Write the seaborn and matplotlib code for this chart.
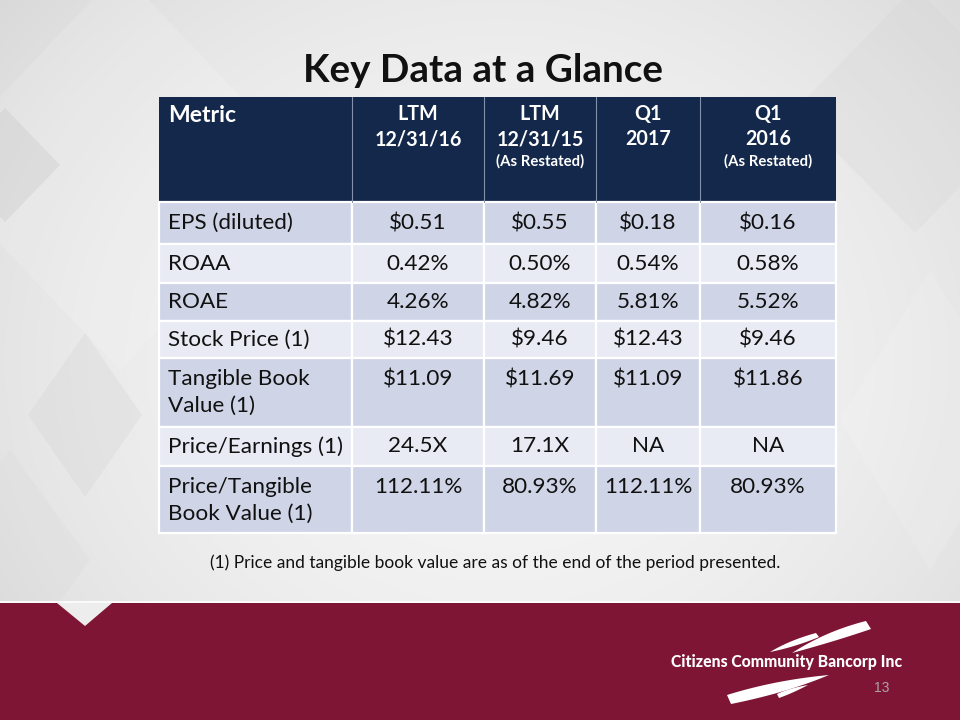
import numpy as np
import matplotlib
matplotlib.use("Agg")
import matplotlib.pyplot as plt
from matplotlib.patches import Rectangle, Polygon
import seaborn as sns

sns.set_theme(style="white")
plt.rcParams['font.family'] = ['Lato', 'DejaVu Sans']

# ---------------- data ----------------
title = "Key Data at a Glance"
col_top = ["Metric", "LTM", "LTM", "Q1", "Q1"]
col_mid = ["", "12/31/16", "12/31/15", "2017", "2016"]
col_note = ["", "", "(As Restated)", "", "(As Restated)"]
metrics = ["EPS (diluted)", "ROAA", "ROAE", "Stock Price (1)",
           "Tangible Book\nValue (1)", "Price/Earnings (1)",
           "Price/Tangible\nBook Value (1)"]
ltm_2016 = ["$0.51", "0.42%", "4.26%", "$12.43", "$11.09", "24.5X", "112.11%"]
ltm_2015 = ["$0.55", "0.50%", "4.82%", "$9.46", "$11.69", "17.1X", "80.93%"]
q1_2017 = ["$0.18", "0.54%", "5.81%", "$12.43", "$11.09", "NA", "112.11%"]
q1_2016 = ["$0.16", "0.58%", "5.52%", "$9.46", "$11.86", "NA", "80.93%"]
footnote = "(1) Price and tangible book value are as of the end of the period presented."
company = "Citizens Community Bancorp Inc"
page_no = "13"

# ---------------- layout ----------------
col_edges = [159, 352, 484, 596, 700, 836]
row_edges = [97, 202, 244, 283, 321, 358, 427, 466, 533]
NAVY = "#13284a"
DARK_ROW = "#cfd5e7"
LIGHT_ROW = "#e8ebf4"
MAROON = "#7f1535"

fig = plt.figure(figsize=(9.6, 7.2), dpi=100)
ax = fig.add_axes([0, 0, 1, 1])
ax.set_xlim(0, 960)
ax.set_ylim(720, 0)
ax.axis("off")
renderer = fig.canvas.get_renderer()


def fit(t, target_w):
    bb = t.get_window_extent(renderer)
    s = t.get_fontsize() * target_w / bb.width
    t.set_fontsize(s)
    return s


# background gradient
yy, xx = np.mgrid[0:720, 0:960]
v = 0.962 - 0.06 * ((xx - 500) / 480.0) ** 2 - 0.045 * ((yy - 360) / 360.0) ** 2
v = np.clip(v, 0, 1)
ax.imshow(np.dstack([v, v, v]), extent=(0, 960, 720, 0), zorder=0, aspect="auto")

# faint diamonds
def diamond(cx, cy, hw, hh, color, alpha):
    ax.add_patch(Polygon([(cx, cy - hh), (cx + hw, cy), (cx, cy + hh), (cx - hw, cy)],
                         closed=True, facecolor=color, edgecolor="none", alpha=alpha, zorder=1))

diamond(120, 170, 190, 200, "white", 0.15)
diamond(5, 165, 55, 57, "#c8c8c8", 0.35)
diamond(85, 415, 57, 82, "#cfcfcf", 0.25)
diamond(10, 560, 80, 110, "#d0d0d0", 0.15)
diamond(915, 110, 120, 123, "#d2d2d2", 0.22)
diamond(930, 420, 90, 150, "white", 0.12)

# maroon band
ax.add_patch(Rectangle((0, 603), 960, 117, facecolor=MAROON, edgecolor="none", zorder=2))
ax.plot([0, 960], [601.5, 601.5], color="white", lw=1.2, zorder=2)
ax.add_patch(Polygon([(57, 603), (112, 603), (85, 626)], closed=True,
                     facecolor="#ededed", edgecolor="none", zorder=2))

# title
t = ax.text(483, 70, title, ha="center", va="center", fontsize=26, fontweight="bold",
            color="#111111", zorder=5)
fit(t, 360)

# header
ax.add_patch(Rectangle((col_edges[0], row_edges[0]), col_edges[-1] - col_edges[0],
                       row_edges[1] - row_edges[0], facecolor=NAVY, edgecolor="none", zorder=3))
for x in col_edges[1:-1]:
    ax.plot([x, x], [row_edges[0], row_edges[1]], color="#8391aa", lw=0.8, zorder=4)

t = ax.text(168, 115, col_top[0], ha="left", va="center", fontsize=15, fontweight="bold",
            color="white", zorder=5)
fit(t, 68)
hs = None
for i in range(1, 5):
    cx = (col_edges[i] + col_edges[i + 1]) / 2
    t1 = ax.text(cx, 114, col_top[i], ha="center", va="center", fontsize=12,
                 fontweight="bold", color="white", zorder=5)
    t2 = ax.text(cx, 139, col_mid[i], ha="center", va="center", fontsize=12,
                 fontweight="bold", color="white", zorder=5, parse_math=False)
    if i == 1:
        hs = fit(t2, 87)
    t1.set_fontsize(hs)
    t2.set_fontsize(hs)
    if col_note[i]:
        t3 = ax.text(cx, 161, col_note[i], ha="center", va="center", fontsize=9,
                     fontweight="bold", color="white", zorder=5)
        fit(t3, 88)

# body
columns = [ltm_2016, ltm_2015, q1_2017, q1_2016]
probe = ax.text(0, -100, "Price/Earnings (1)", fontsize=15)
bs = fit(probe, 175)
probe.remove()
for r, name in enumerate(metrics):
    top, bot = row_edges[r + 1], row_edges[r + 2]
    color = DARK_ROW if r % 2 == 0 else LIGHT_ROW
    for c in range(5):
        ax.add_patch(Rectangle((col_edges[c], top), col_edges[c + 1] - col_edges[c], bot - top,
                               facecolor=color, edgecolor="white", lw=1.6, zorder=3))
    lines = name.split("\n")
    if len(lines) == 1:
        ys = [(top + bot) / 2]
    else:
        ys = [top + 21, top + 48]
    for ln, y in zip(lines, ys):
        ax.text(168, y, ln, ha="left", va="center", fontsize=bs, color="#111111",
                zorder=5, parse_math=False)
    for c, col in enumerate(columns):
        cx = (col_edges[c + 1] + col_edges[c + 2]) / 2
        ax.text(cx, ys[0], col[r], ha="center", va="center", fontsize=bs,
                color="#111111", zorder=5, parse_math=False)

# footnote
t = ax.text(495, 563, footnote, ha="center", va="center", fontsize=11, color="#111111", zorder=5)
fit(t, 566)

# logo swooshes
def bezier(p0, c, p1, n=40):
    s = np.linspace(0, 1, n)[:, None]
    p0, c, p1 = map(np.array, (p0, c, p1))
    return (1 - s) ** 2 * p0 + 2 * (1 - s) * s * c + s ** 2 * p1

def swoosh(tip, end_a, end_b, c1, c2):
    a = bezier(tip, c1, end_a)
    b = bezier(end_b, c2, tip)
    ax.add_patch(Polygon(np.vstack([a, b]), closed=True, facecolor="white",
                         edgecolor="none", zorder=5))

# upper big (thick at right)
swoosh((792, 653), (866, 621), (871, 629), (826, 631), (836, 641))
# upper thin
swoosh((770, 652), (816, 633), (819, 637), (790, 640), (795, 647))
# lower big (thick at left)
swoosh((829, 675), (727, 695), (731, 704), (775, 680), (786, 693))
# lower thin
swoosh((808, 685), (777, 694), (779, 698), (790, 688), (793, 693))

t = ax.text(671, 662, company, ha="left", va="center", fontsize=11, fontweight="black",
            color="white", family=["Lato", "DejaVu Sans"], zorder=6)
fit(t, 230)
ax.text(882, 688, page_no, ha="center", va="center", fontsize=10, color="#a7a7a7",
        family=["Liberation Sans", "DejaVu Sans"], zorder=6)

fig.savefig("out.png", dpi=100)
